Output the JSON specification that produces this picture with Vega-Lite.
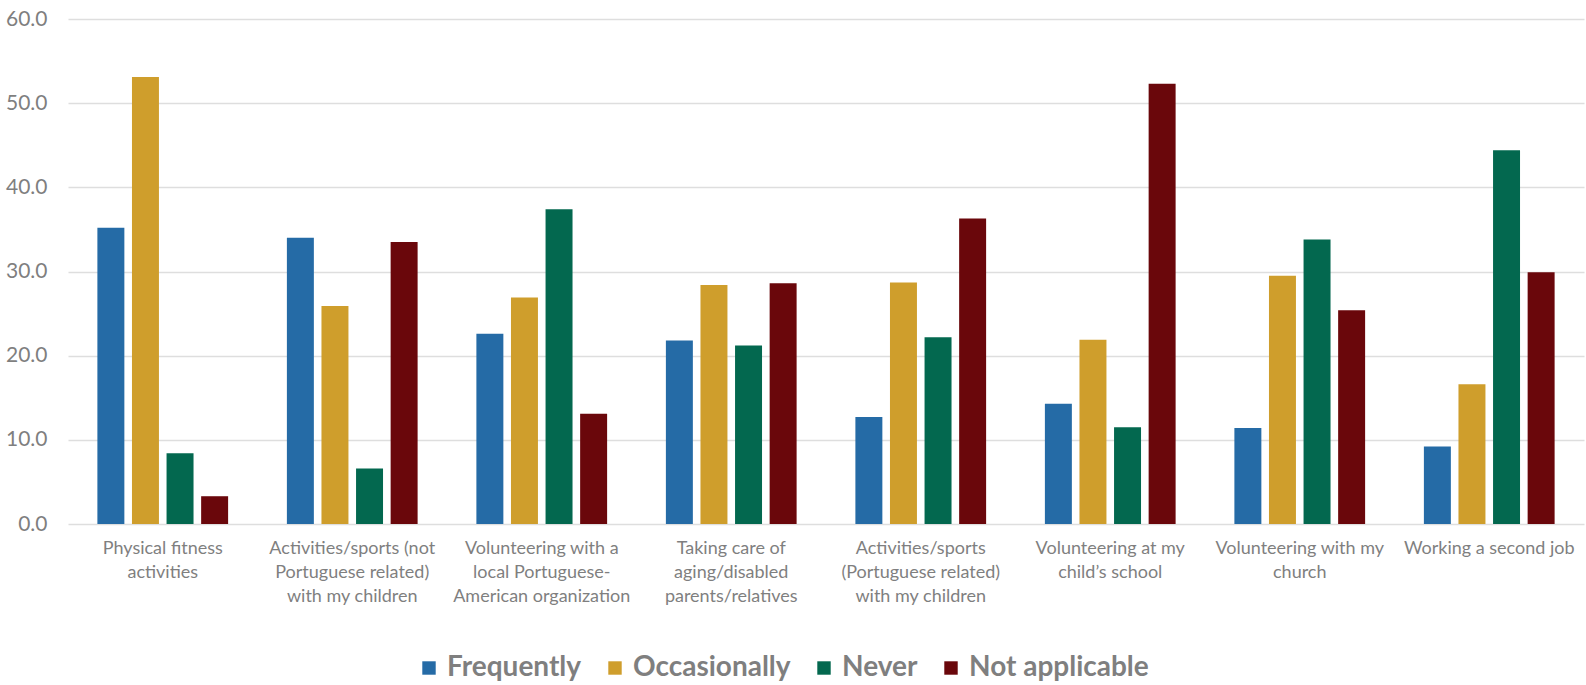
{
  "$schema": "https://vega.github.io/schema/vega-lite/v6.json",
  "width": 1516,
  "height": 505,
  "autosize": {"type": "none"},
  "padding": {"left": 68, "top": 19, "right": 2, "bottom": 161},
  "background": "white",
  "config": {
    "view": {"stroke": null},
    "font": "Lato"
  },
  "data": {
    "values": [
      {"activity": "Physical fitness activities", "response": "Frequently", "value": 35.2},
      {"activity": "Physical fitness activities", "response": "Occasionally", "value": 53.1},
      {"activity": "Physical fitness activities", "response": "Never", "value": 8.4},
      {"activity": "Physical fitness activities", "response": "Not applicable", "value": 3.3},
      {"activity": "Activities/sports (not Portuguese related) with my children", "response": "Frequently", "value": 34.0},
      {"activity": "Activities/sports (not Portuguese related) with my children", "response": "Occasionally", "value": 25.9},
      {"activity": "Activities/sports (not Portuguese related) with my children", "response": "Never", "value": 6.6},
      {"activity": "Activities/sports (not Portuguese related) with my children", "response": "Not applicable", "value": 33.5},
      {"activity": "Volunteering with a local Portuguese-American organization", "response": "Frequently", "value": 22.6},
      {"activity": "Volunteering with a local Portuguese-American organization", "response": "Occasionally", "value": 26.9},
      {"activity": "Volunteering with a local Portuguese-American organization", "response": "Never", "value": 37.4},
      {"activity": "Volunteering with a local Portuguese-American organization", "response": "Not applicable", "value": 13.1},
      {"activity": "Taking care of aging/disabled parents/relatives", "response": "Frequently", "value": 21.8},
      {"activity": "Taking care of aging/disabled parents/relatives", "response": "Occasionally", "value": 28.4},
      {"activity": "Taking care of aging/disabled parents/relatives", "response": "Never", "value": 21.2},
      {"activity": "Taking care of aging/disabled parents/relatives", "response": "Not applicable", "value": 28.6},
      {"activity": "Activities/sports (Portuguese related) with my children", "response": "Frequently", "value": 12.7},
      {"activity": "Activities/sports (Portuguese related) with my children", "response": "Occasionally", "value": 28.7},
      {"activity": "Activities/sports (Portuguese related) with my children", "response": "Never", "value": 22.2},
      {"activity": "Activities/sports (Portuguese related) with my children", "response": "Not applicable", "value": 36.3},
      {"activity": "Volunteering at my child’s school", "response": "Frequently", "value": 14.3},
      {"activity": "Volunteering at my child’s school", "response": "Occasionally", "value": 21.9},
      {"activity": "Volunteering at my child’s school", "response": "Never", "value": 11.5},
      {"activity": "Volunteering at my child’s school", "response": "Not applicable", "value": 52.3},
      {"activity": "Volunteering with my church", "response": "Frequently", "value": 11.4},
      {"activity": "Volunteering with my church", "response": "Occasionally", "value": 29.5},
      {"activity": "Volunteering with my church", "response": "Never", "value": 33.8},
      {"activity": "Volunteering with my church", "response": "Not applicable", "value": 25.4},
      {"activity": "Working a second job", "response": "Frequently", "value": 9.2},
      {"activity": "Working a second job", "response": "Occasionally", "value": 16.6},
      {"activity": "Working a second job", "response": "Never", "value": 44.4},
      {"activity": "Working a second job", "response": "Not applicable", "value": 29.9}
    ]
  },
  "mark": {"type": "bar"},
  "encoding": {
    "x": {
      "field": "activity",
      "type": "nominal",
      "sort": null,
      "scale": {"paddingInner": 0.27, "paddingOuter": 0.135},
      "axis": {
        "title": null,
        "domain": false,
        "ticks": false,
        "labelAngle": 0,
        "labelFontSize": 18,
        "labelColor": "#7f7f7f",
        "labelPadding": 15,
        "labelLineHeight": 24,
        "labelLimit": 300,
        "labelBaseline": "top",
        "labelExpr": "datum.value == 'Physical fitness activities' ? ['Physical fitness', 'activities'] : datum.value == 'Activities/sports (not Portuguese related) with my children' ? ['Activities/sports (not', 'Portuguese related)', 'with my children'] : datum.value == 'Volunteering with a local Portuguese-American organization' ? ['Volunteering with a', 'local Portuguese-', 'American organization'] : datum.value == 'Taking care of aging/disabled parents/relatives' ? ['Taking care of', 'aging/disabled', 'parents/relatives'] : datum.value == 'Activities/sports (Portuguese related) with my children' ? ['Activities/sports', '(Portuguese related)', 'with my children'] : datum.value == 'Volunteering at my child’s school' ? ['Volunteering at my', 'child’s school'] : datum.value == 'Volunteering with my church' ? ['Volunteering with my', 'church'] : datum.value"
      }
    },
    "xOffset": {
      "field": "response",
      "type": "nominal",
      "sort": ["Frequently", "Occasionally", "Never", "Not applicable"],
      "scale": {"paddingInner": 0.22, "paddingOuter": 0.11}
    },
    "y": {
      "field": "value",
      "type": "quantitative",
      "scale": {"domain": [0, 60], "nice": false},
      "axis": {
        "title": null,
        "values": [0, 10, 20, 30, 40, 50, 60],
        "format": ".1f",
        "domain": false,
        "ticks": false,
        "labelFontSize": 21,
        "labelColor": "#7f7f7f",
        "labelPadding": 21,
        "gridColor": "#dedede",
        "gridWidth": 1.5
      }
    },
    "color": {
      "field": "response",
      "type": "nominal",
      "sort": ["Frequently", "Occasionally", "Never", "Not applicable"],
      "scale": {
        "domain": ["Frequently", "Occasionally", "Never", "Not applicable"],
        "range": ["#256BA6", "#CF9E2C", "#03684F", "#6A070B"]
      },
      "legend": {
        "title": null,
        "orient": "none",
        "direction": "horizontal",
        "legendX": 347,
        "legendY": 635,
        "padding": 0,
        "symbolType": "square",
        "symbolSize": 180,
        "symbolStrokeWidth": 0,
        "labelFontSize": 28,
        "labelFontWeight": "bold",
        "labelColor": "#7f7f7f",
        "labelOffset": 4,
        "columnPadding": 19,
        "labelLimit": 300
      }
    }
  }
}
